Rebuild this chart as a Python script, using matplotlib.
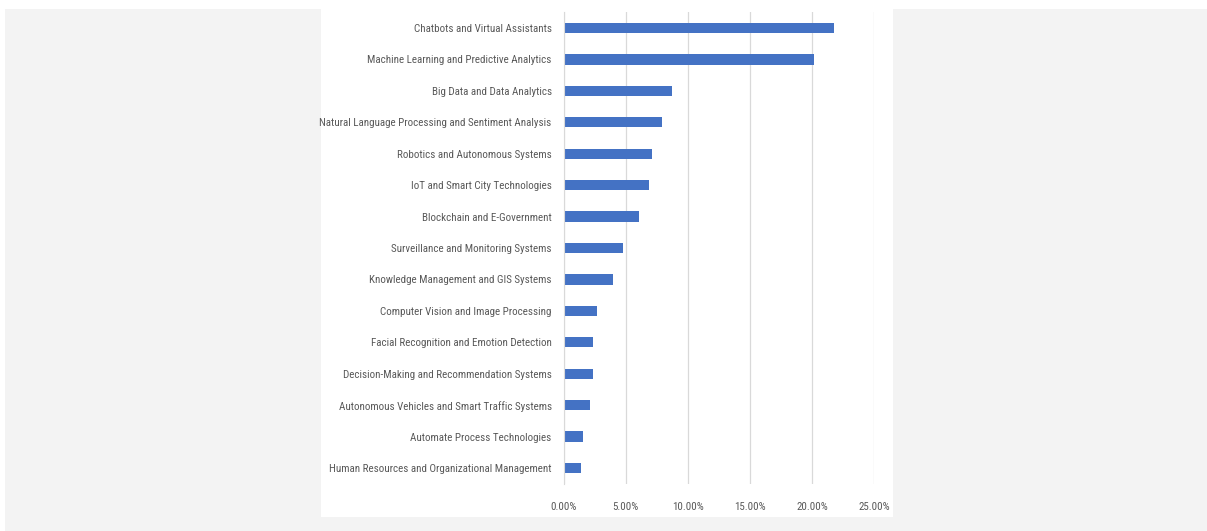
import matplotlib.pyplot as plt
from matplotlib.patches import Rectangle
from matplotlib.ticker import FuncFormatter, MultipleLocator
from matplotlib import font_manager
from matplotlib.font_manager import FontProperties

categories = [
    'Chatbots and Virtual Assistants',
    'Machine Learning and Predictive Analytics',
    'Big Data and Data Analytics',
    'Natural Language Processing and Sentiment Analysis',
    'Robotics and Autonomous Systems',
    'IoT and Smart City Technologies',
    'Blockchain and E-Government',
    'Surveillance and Monitoring Systems',
    'Knowledge Management and GIS Systems',
    'Computer Vision and Image Processing',
    'Facial Recognition and Emotion Detection',
    'Decision-Making and Recommendation Systems',
    'Autonomous Vehicles and Smart Traffic Systems',
    'Automate Process Technologies',
    'Human Resources and Organizational Management',
]
shares = [21.75, 20.17, 8.76, 7.95, 7.15, 6.88, 6.08, 4.79, 3.99,
          2.67, 2.40, 2.40, 2.13, 1.60, 1.38]

## the original uses a narrow font (Calibri); take the narrowest one installed
fonts = font_manager.fontManager.ttflist
names = {f.name for f in fonts}
stretch = 'normal'
if 'Liberation Sans Narrow' in names:
    family = 'Liberation Sans Narrow'
elif 'Roboto Condensed' in names:
    family = 'Roboto Condensed'
elif any(f.name == 'DejaVu Sans' and 'condensed' in str(f.stretch) for f in fonts):
    family, stretch = 'DejaVu Sans', 'condensed'
else:
    family = 'Roboto'
plt.rcParams['font.family'] = [family, 'DejaVu Sans']
plt.rcParams['font.stretch'] = stretch

W, H = 1207, 531
fig = plt.figure(figsize=(W / 100, H / 100), dpi=100)
fig.patch.set_facecolor('white')

## size the font so the widest label fits the card like in the original (~228 px)
probe = fig.text(0, 0, categories[3], fontproperties=FontProperties(family=[family, 'DejaVu Sans'], stretch=stretch, size=10))
wpx = probe.get_window_extent(renderer=fig.canvas.get_renderer()).width
probe.remove()
fsize = min(10.5, 10 * 230 / wpx)

## grey backdrop and the white card the chart sits on
fig.patches.append(Rectangle((5 / W, 0), 1 - 5 / W, 1 - 9 / H, transform=fig.transFigure,
                             facecolor='#f3f3f3', edgecolor='none', zorder=-2))
fig.patches.append(Rectangle((321 / W, 14 / H), 572 / W, (H - 9 - 14) / H, transform=fig.transFigure,
                             facecolor='white', edgecolor='none', zorder=-1))

left, right = 563.5, 874
top, bottom = 12.3, 483.7
ax = fig.add_axes([left / W, (H - bottom) / H, (right - left) / W, (bottom - top) / H])
ax.set_facecolor('none')

ypos = list(range(len(categories)))
ax.barh(ypos, shares, height=0.33, color='#4472c4', zorder=3)

ax.set_ylim(len(categories) - 0.5, -0.5)
ax.set_xlim(0, 25)
ax.set_yticks(ypos)
ax.set_yticklabels(categories, fontsize=fsize, color='#595959')
ax.xaxis.set_major_locator(MultipleLocator(5))
ax.xaxis.set_major_formatter(FuncFormatter(lambda v, p: '%.2f%%' % v))
ax.tick_params(axis='x', labelsize=fsize, labelcolor='#595959', length=0, pad=13)
ax.tick_params(axis='y', length=0, pad=8.5)

ax.grid(axis='x', color='#d9d9d9', linewidth=0.9, zorder=0)
for s in ['top', 'right', 'bottom']:
    ax.spines[s].set_visible(False)
ax.spines['left'].set_color('#d9d9d9')
ax.spines['left'].set_zorder(4)

fig.savefig('out.png', dpi=100)
